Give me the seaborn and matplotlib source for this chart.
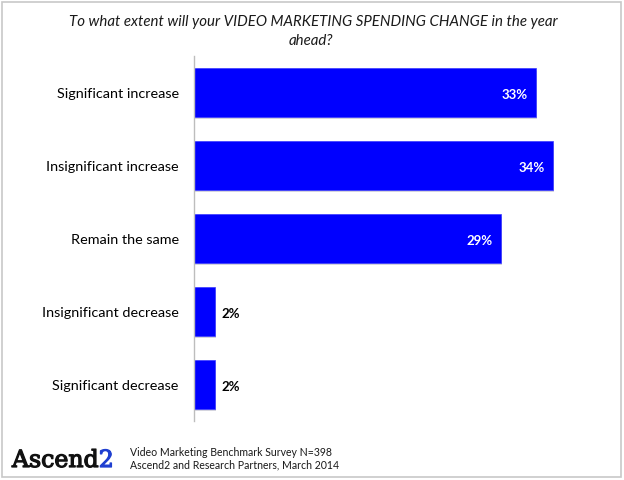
import matplotlib
matplotlib.use("Agg")
import matplotlib.pyplot as plt
import matplotlib.patheffects as pe
import seaborn as sns
import pandas as pd
import numpy as np
from matplotlib.patches import Rectangle

categories = ["Significant increase", "Insignificant increase", "Remain the same",
              "Insignificant decrease", "Significant decrease"]
values = [32.4, 34, 29.1, 2, 2]
value_labels = ["33%", "34%", "29%", "2%", "2%"]

sns.set_theme(style="white")
plt.rcParams['font.family'] = ['Lato', 'DejaVu Sans']

W, H = 624, 481
fig = plt.figure(figsize=(W / 100, H / 100), dpi=100)
ax_left, ax_top, ax_bottom = 194, 57, 422
xmax = 38
px_per = 10.55
ax_w = xmax * px_per
ax = fig.add_axes([ax_left / W, 1 - ax_bottom / H, ax_w / W, (ax_bottom - ax_top) / H])

df = pd.DataFrame({"cat": categories, "val": values})
sns.barplot(data=df, y="cat", x="val", order=categories, color="#0000FF",
            saturation=1, width=0.66, ax=ax, orient="h")
for p in ax.patches:
    p.set_edgecolor("#3a3aff")
    p.set_linewidth(0.5)
    sh = Rectangle((p.get_x() + 0.12, p.get_y() + 0.03), p.get_width(), p.get_height(),
                   facecolor="#b8b8c8", edgecolor="none", zorder=p.get_zorder() - 0.5, alpha=0.6)
    ax.add_patch(sh)

ax.set_xlim(0, xmax)
ax.set_ylim(4.5, -0.5)
ax.set_xlabel("")
ax.set_ylabel("")
ax.set_xticks([])
for s in ["top", "right", "bottom"]:
    ax.spines[s].set_visible(False)
ax.spines["left"].set_color("#bdbdbd")
ax.spines["left"].set_linewidth(1)
ax.tick_params(axis="y", which="major", length=0, pad=11, labelsize=10.4, labelcolor="#000000")
ax.set_yticks(np.arange(-0.5, 5, 1), minor=True)
ax.tick_params(axis="y", which="minor", length=5, color="#bdbdbd", width=1)

for i, (v, lab) in enumerate(zip(values, value_labels)):
    if v > 10:
        ax.text(v - 0.75, i + 0.02, lab, ha="right", va="center", color="white",
                fontsize=9.5, fontweight="bold")
    else:
        ax.text(v + 0.65, i + 0.02, lab, ha="left", va="center", color="black",
                fontsize=9.5, fontweight="bold")

fig.text(313 / W, 1 - 22 / H, "To what extent will your VIDEO MARKETING SPENDING CHANGE in the year",
         ha="center", va="center", fontsize=10.8, style="italic", color="#1a1a1a")
fig.text(311 / W, 1 - 41 / H, "ahead?", ha="center", va="center", fontsize=10.8,
         style="italic", color="#1a1a1a")

# logo
t1 = fig.text(12 / W, 1 - 468 / H, "Ascend", ha="left", va="baseline", fontsize=17,
              family="DejaVu Serif", color="#111111",
              path_effects=[pe.withStroke(linewidth=0.9, foreground="#111111")])
fig.canvas.draw()
bb = t1.get_window_extent()
fig.text(bb.x1 / W, 1 - 468 / H, "2", ha="left", va="baseline", fontsize=17,
         family="DejaVu Serif", color="#1f3fd0",
         path_effects=[pe.withStroke(linewidth=0.9, foreground="#1f3fd0")])

fig.text(130 / W, 1 - 453 / H, "Video Marketing Benchmark Survey N=398", ha="left",
         va="center", fontsize=7.6, color="#1a1a1a")
fig.text(130 / W, 1 - 465 / H, "Ascend2 and Research Partners, March 2014", ha="left",
         va="center", fontsize=7.6, color="#1a1a1a")

fig.patches.append(Rectangle((1.5 / W, 1 - 477.5 / H), 619 / W, 475 / H, transform=fig.transFigure,
                             fill=False, edgecolor="#c8c8c8", linewidth=1.2))

fig.savefig("out.png", dpi=100)
